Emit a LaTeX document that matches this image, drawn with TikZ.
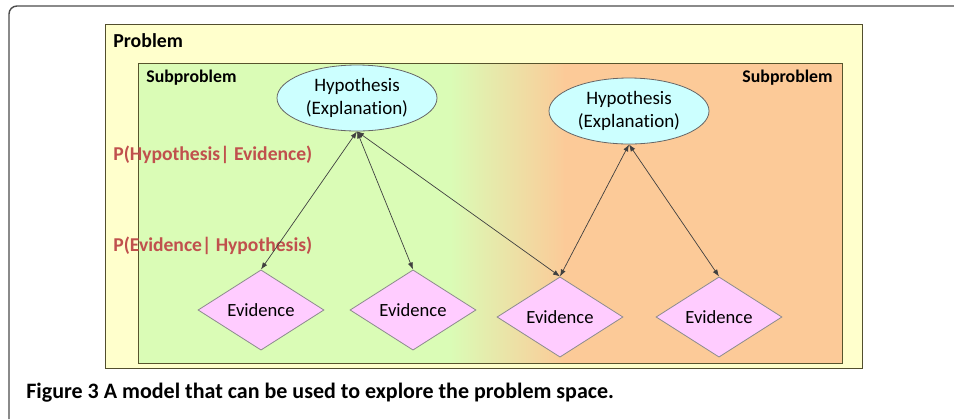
\documentclass[tikz,border=0pt]{standalone}
\usepackage{fontspec}
\setmainfont{Carlito}[Ligatures=NoCommon]
\usetikzlibrary{arrows.meta, positioning, shapes.geometric}
\usepackage{xcolor}
\definecolor{probfill}{HTML}{FFFFCC}
\definecolor{subgreen}{HTML}{DAFCB6}
\definecolor{suborange}{HTML}{FCCA98}
\definecolor{hypfill}{HTML}{CCFFFF}
\definecolor{evfill}{HTML}{FFCCFF}
\definecolor{probred}{HTML}{C0504D}

\begin{document}
\begin{tikzpicture}[x=0.5pt,y=-0.5pt,
		hyp/.style={ellipse,draw=black!60,fill=hypfill,minimum width=80pt,minimum height=33pt,inner sep=0pt,align=center,font=\fontsize{9.5}{11.5}\selectfont},
		evid/.style={diamond,draw=black!45,fill=evfill,minimum width=63pt,minimum height=39.5pt,inner sep=0pt,font=\fontsize{9.3}{11}\selectfont},
		link/.style={{Latex[length=3.5pt,width=2.6pt]}-{Latex[length=3.5pt,width=2.6pt]},black!75,line width=0.35pt},
		prob/.style={text=probred,font=\bfseries\fontsize{9.8}{11}\selectfont,anchor=west,inner sep=0pt}]
		\useasboundingbox (0,0) rectangle (954,419);
		\draw[black!70,line width=0.7pt,rounded corners=4pt] (954,6) -- (9,6) -- (9,419);

		% problem and the two subproblems
		\draw[fill=probfill,draw=black!55!olive,line width=0.5pt] (105,24) rectangle (862,368);
		\fill[subgreen] (138,63) rectangle (452,363);
		\shade[left color=subgreen,right color=suborange] (450,63) rectangle (566,363);
		\fill[suborange] (564,63) rectangle (842,363);
		\draw[black!50!olive,line width=0.5pt] (138,63) rectangle (842,363);

		\node[anchor=west,inner sep=0pt,font=\bfseries\fontsize{9.9}{12}\selectfont] (problem) at (113,41) {Problem};
		\node[anchor=west,inner sep=0pt,font=\bfseries\fontsize{8.9}{11}\selectfont] (subL) at (146,78) {Subproblem};
		\node[anchor=east,inner sep=0pt,font=\bfseries\fontsize{8.9}{11}\selectfont] (subR) at (833,78) {Subproblem};

		\node[hyp] (hypL) at (357,98) {Hypothesis\\(Explanation)};
		\node[hyp] (hypR) at (629,111) {Hypothesis\\(Explanation)};

		\node[evid] (evA) at (261,310) {Evidence};
		\node[evid] (evB) at (413,310) {Evidence};
		\node[evid] (evC) at (560,317) {Evidence};
		\node[evid] (evD) at (719,317) {Evidence};

		\node[prob] (phe) at (113,155) {P(Hypothesis| Evidence)};
		\node[prob] (peh) at (113,246) {P(Evidence| Hypothesis)};

		\draw[link] (hypL.south) -- (evA.north);
		\draw[link] (hypL.south) -- (evB.north);
		\draw[link] (hypL.south) -- (evC.north);
		\draw[link] (hypR.south) -- (evC.north);
		\draw[link] (hypR.south) -- (evD.north);

		\node[anchor=west,inner sep=0pt,font=\bfseries\fontsize{11}{13}\selectfont] (caption) at (26,393) {Figure 3 A model that can be used to explore the problem space.};
	\end{tikzpicture}
\end{document}
